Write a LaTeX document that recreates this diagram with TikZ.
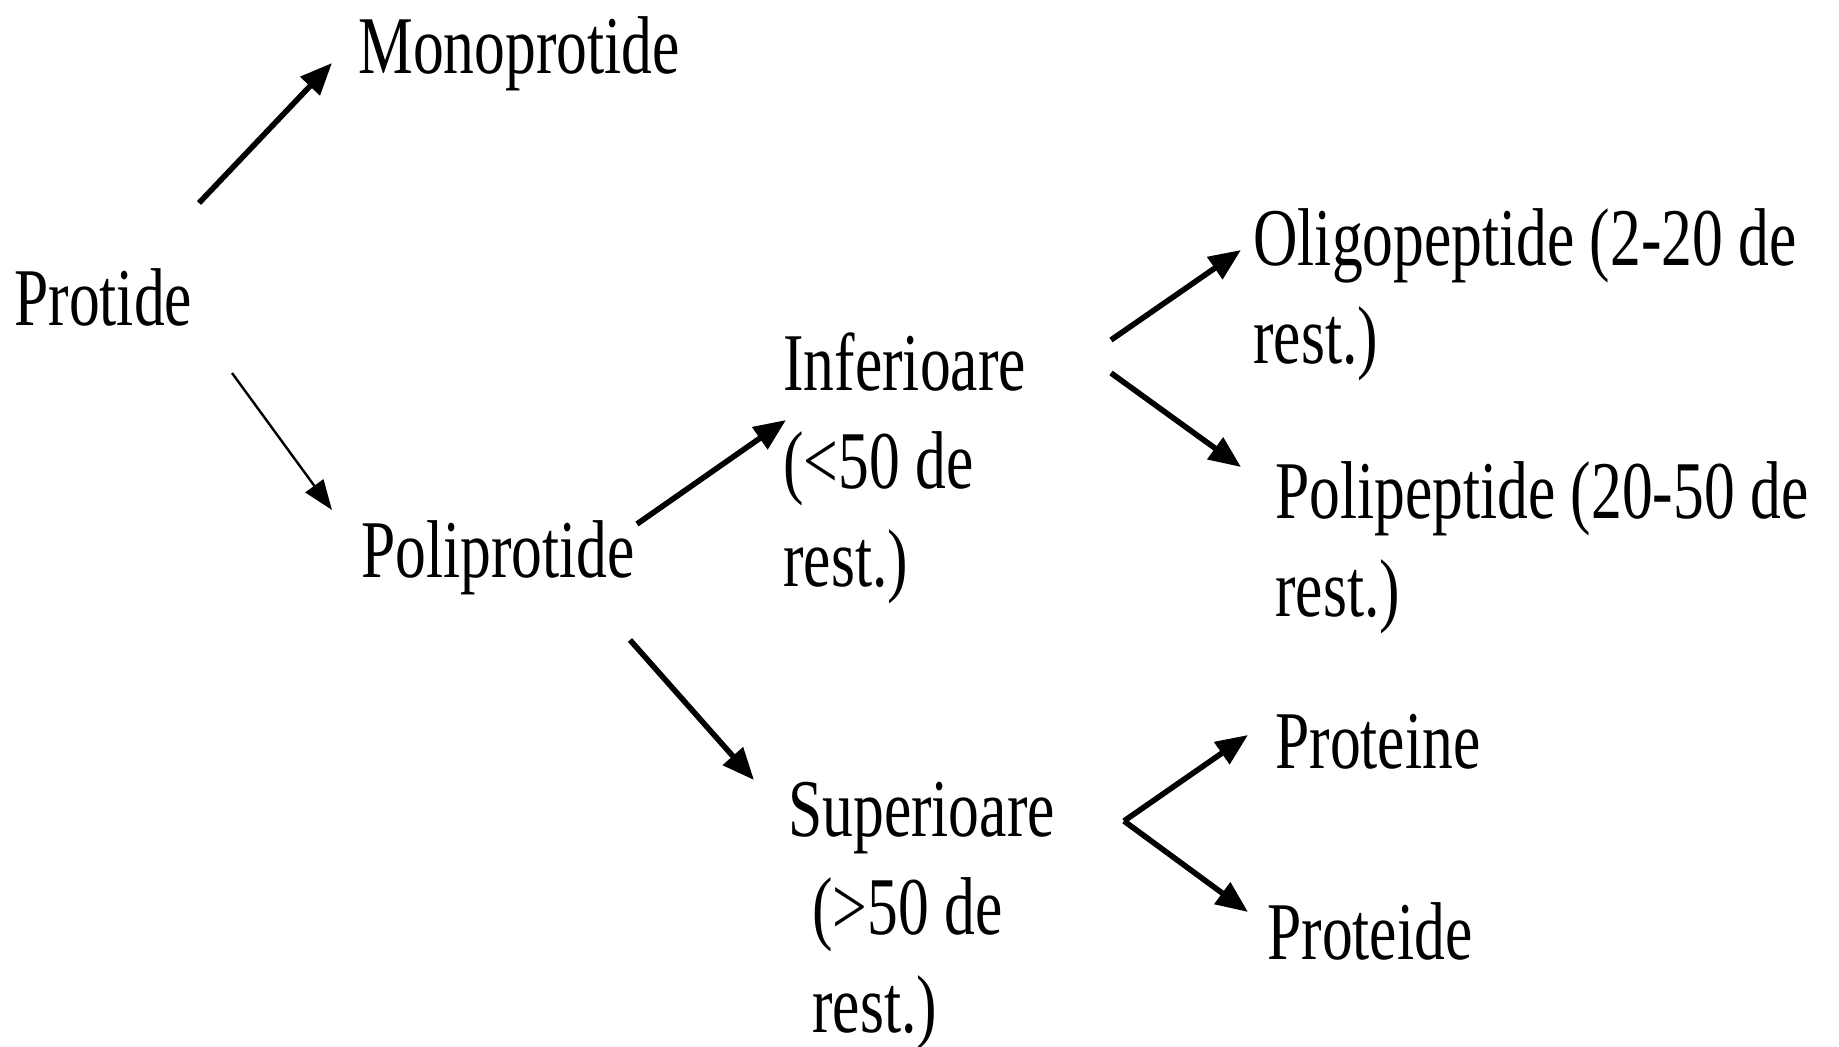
\documentclass[tikz,border=0pt]{standalone}
\usepackage{fontspec}
\setmainfont{Liberation Serif}[FakeStretch=0.75]
\usetikzlibrary{arrows.meta}
\begin{document}
\begin{tikzpicture}[x=0.5pt,y=-0.5pt,
  lbl/.style={inner sep=0pt,anchor=base west,align=left,
    font=\fontsize{41}{49}\selectfont},
  arr/.style={line width=2.8pt,-{Triangle[length=16pt,width=13pt]}},
  thinarr/.style={line width=1.2pt,-{Triangle[length=15pt,width=11pt]}}]
\useasboundingbox (0,0) rectangle (1839,1047);
\node[lbl] (protide) at (14,326) {Protide};
\node[lbl] (mono) at (358,74) {Monoprotide};
\node[lbl] (poli) at (361,577) {Poliprotide};
\node[lbl] (inf) at (783,586) {Inferioare\\(<50 de\\rest.)};
\node[lbl] (sup) at (788,1032) {Superioare\\\hspace*{12pt}(>50 de\\\hspace*{12pt}rest.)};
\node[lbl] (oligo) at (1253,364) {Oligopeptide (2-20 de\\rest.)};
\node[lbl] (polip) at (1275,616) {Polipeptide (20-50 de\\rest.)};
\node[lbl] (proteine) at (1275,768) {Proteine};
\node[lbl] (proteide) at (1267,959) {Proteide};
\draw[arr] ([shift={(185,-123)}]protide.base west) -- ([shift={(-26,-11)}]mono.base west);
\draw[thinarr] ([shift={(218,47)}]protide.base west) -- ([shift={(-29,-67)}]poli.base west);
\draw[arr] ([shift={(276,-53)}]poli.base west) -- ([shift={(3,-166)}]inf.base west);
\draw[arr] ([shift={(269,63)}]poli.base west) -- ([shift={(-34,-252)}]sup.base west);
\draw[arr] ([shift={(328,-246)}]inf.base west) -- ([shift={(-12,-114)}]oligo.base west);
\draw[arr] ([shift={(328,-213)}]inf.base west) -- ([shift={(-34,-149)}]polip.base west);
\draw[arr] ([shift={(336,-211)}]sup.base west) -- ([shift={(-27,-33)}]proteine.base west);
\draw[arr] ([shift={(336,-211)}]sup.base west) -- ([shift={(-19,-47)}]proteide.base west);
\end{tikzpicture}
\end{document}
